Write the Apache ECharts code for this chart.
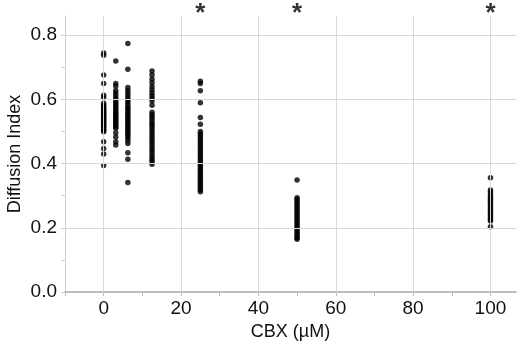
<!DOCTYPE html>
<html>
<head>
<meta charset="utf-8">
<script src="https://cdn.jsdelivr.net/npm/echarts@6/dist/echarts.min.js"></script>
<style>
html, body { margin: 0; padding: 0; background: #fff; }
#main { width: 520px; height: 350px; }
</style>
</head>
<body>
<div id="main"></div>
<script>
// CBX doses (uM) and the diffusion index measured at each
var doses = [0, 3.125, 6.25, 12.5, 25, 50, 100];

var dose0 = [0.745, 0.738, 0.676, 0.650, 0.613, 0.605, 0.588, 0.582, 0.577, 0.572, 0.568, 0.563, 0.559, 0.555, 0.551, 0.547, 0.543, 0.540, 0.536, 0.532, 0.528, 0.524, 0.520, 0.516, 0.512, 0.507, 0.503, 0.499, 0.468, 0.447, 0.430, 0.394];
var dose3 = [0.720, 0.650, 0.642, 0.628, 0.620, 0.612, 0.604, 0.597, 0.590, 0.584, 0.578, 0.572, 0.566, 0.560, 0.555, 0.550, 0.545, 0.540, 0.535, 0.530, 0.525, 0.520, 0.515, 0.510, 0.496, 0.483, 0.468, 0.458];
var dose6 = [0.774, 0.694, 0.637, 0.628, 0.620, 0.612, 0.604, 0.597, 0.590, 0.583, 0.576, 0.570, 0.564, 0.558, 0.552, 0.546, 0.540, 0.534, 0.528, 0.522, 0.516, 0.510, 0.504, 0.498, 0.492, 0.486, 0.480, 0.472, 0.463, 0.434, 0.414, 0.341];
var dose12 = [0.689, 0.676, 0.663, 0.652, 0.640, 0.630, 0.620, 0.612, 0.604, 0.595, 0.582, 0.560, 0.552, 0.545, 0.538, 0.530, 0.523, 0.516, 0.508, 0.500, 0.492, 0.484, 0.476, 0.468, 0.460, 0.452, 0.444, 0.436, 0.428, 0.420, 0.412, 0.405, 0.398];
var dose25 = [0.657, 0.650, 0.627, 0.590, 0.544, 0.523, 0.500, 0.493, 0.486, 0.479, 0.472, 0.465, 0.458, 0.451, 0.444, 0.437, 0.430, 0.423, 0.416, 0.409, 0.402, 0.396, 0.390, 0.384, 0.378, 0.372, 0.366, 0.360, 0.354, 0.348, 0.342, 0.336, 0.330, 0.324, 0.318, 0.312];
var dose50 = [0.349, 0.294, 0.288, 0.282, 0.276, 0.270, 0.264, 0.258, 0.252, 0.246, 0.240, 0.234, 0.228, 0.222, 0.216, 0.210, 0.204, 0.198, 0.192, 0.186, 0.180, 0.174, 0.168, 0.164];
var dose100 = [0.356, 0.318, 0.312, 0.305, 0.298, 0.292, 0.286, 0.280, 0.274, 0.268, 0.262, 0.256, 0.250, 0.244, 0.238, 0.232, 0.226, 0.221, 0.203];

var groups = [dose0, dose3, dose6, dose12, dose25, dose50, dose100];

// doses marked significant (*)
var sigDoses = [25, 50, 100];

// grid lines
var gridX = [0, 20, 40, 60, 80, 100];
var gridY = [0.2, 0.4, 0.6, 0.8];

var xMin = -10, xMax = 106.6, yMin = 0, yMax = 0.86;

var chart = echarts.init(document.getElementById("main"), null, {renderer: "canvas"});

var points = [];
for (var g = 0; g < groups.length; g++)
{
	for (var k = 0; k < groups[g].length; k++)
	{
		points.push([doses[g], groups[g][k]]);
	}
}

var gridLines = [];
gridX.forEach(function(v) { gridLines.push({xAxis: v}); });
gridY.forEach(function(v) { gridLines.push({yAxis: v}); });

var font = "'Liberation Sans', Arial, sans-serif";

var opt = {
	animation: false,
	grid: {
		left: 65,
		right: 4,
		top: 16,
		bottom: 58,
		containLabel: false,
		outerBoundsMode: "none"
	},
	xAxis: {
		type: "value",
		min: xMin,
		max: xMax,
		interval: 10,
		name: "CBX (\u00b5M)",
		nameLocation: "middle",
		nameGap: 31,
		nameTextStyle: {
			fontFamily: font,
			fontSize: 18,
			color: "#111"
		},
		axisLine: {
			show: true,
			onZero: false,
			lineStyle: {color: "#bdbdbd", width: 2}
		},
		axisTick: {
			show: true,
			inside: false,
			length: 4,
			lineStyle: {color: "#bdbdbd"}
		},
		axisLabel: {
			margin: 7,
			fontFamily: font,
			fontSize: 19,
			color: "#111",
			showMaxLabel: false,
			formatter: function(v) {
				return (Math.round(v) % 20 === 0 && v >= 0) ? String(Math.round(v)) : "";
			}
		},
		splitLine: {show: false}
	},
	yAxis: {
		type: "value",
		min: yMin,
		max: yMax,
		interval: 0.1,
		name: "Diffusion Index",
		nameLocation: "middle",
		nameGap: 41,
		nameMoveOverlap: false,
		nameTextStyle: {
			fontFamily: font,
			fontSize: 18,
			color: "#111"
		},
		axisLine: {
			show: true,
			onZero: false,
			lineStyle: {color: "#cfcfcf", width: 1}
		},
		axisTick: {
			show: true,
			length: 4,
			lineStyle: {color: "#cfcfcf"}
		},
		axisLabel: {
			margin: 8,
			fontFamily: font,
			fontSize: 19,
			color: "#111",
			showMaxLabel: false,
			formatter: function(v) {
				var t = Math.round(v * 10);
				return (Math.abs(v * 10 - t) < 1e-6 && t % 2 === 0) ? v.toFixed(1) : "";
			}
		},
		splitLine: {show: false}
	},
	series: [
		{
			name: "grid",
			type: "scatter",
			data: [],
			z: 1,
			markLine: {
				silent: true,
				symbol: "none",
				label: {show: false},
				lineStyle: {color: "#d9d9d9", type: "solid", width: 1},
				data: gridLines
			}
		},
		{
			name: "diffusion",
			type: "scatter",
			z: 3,
			symbol: "circle",
			symbolSize: 5.5,
			itemStyle: {color: "#000"},
			data: points
		},
		{
			name: "sig",
			type: "scatter",
			z: 3,
			clip: false,
			symbolSize: 0,
			data: sigDoses.map(function(d) { return [d, yMax]; }),
			label: {
				show: true,
				position: "top",
				distance: 0,
				offset: [0, 11],
				formatter: "*",
				fontFamily: font,
				fontWeight: "bold",
				fontSize: 26,
				color: "#000"
			}
		}
	]
};

chart.setOption(opt);
</script>
</body>
</html>
